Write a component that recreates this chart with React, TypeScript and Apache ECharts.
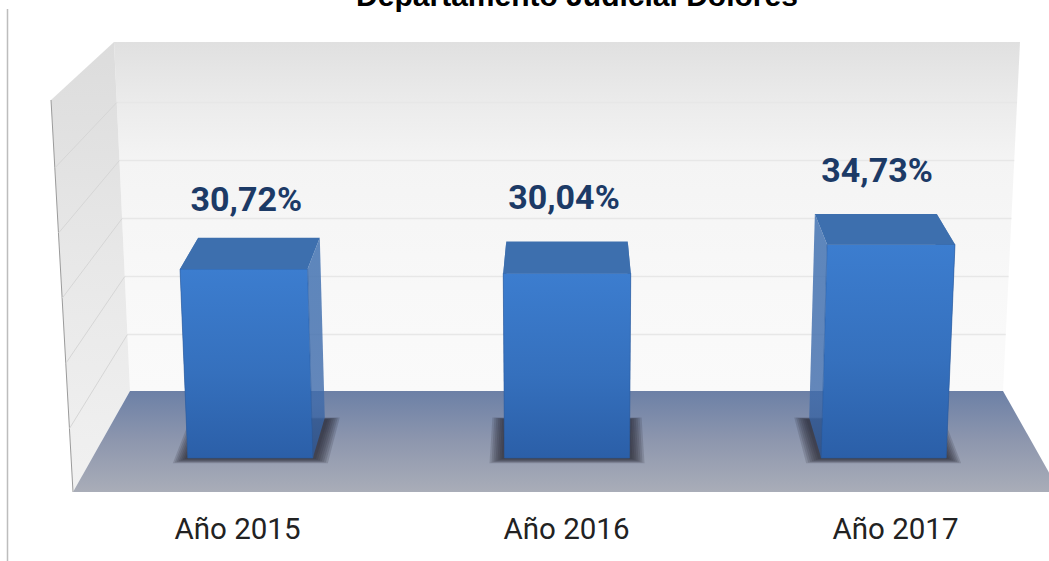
import React, { useEffect, useRef } from "react";
import * as echarts from "echarts";

const categories = ["Año 2015", "Año 2016", "Año 2017"];
const values = [30.72, 30.04, 34.73];
const wallTicks = [10, 20, 30, 40, 50];
const titleText = "Departamento Judicial Dolores";

// Layout of the fake-3D room, in pixels
const W = 1049;
const H = 561;
const VP_X = 567;
const VP_Y = -400;
const DEPTH = 0.953;
const TAPER = 0.000109;
const HALF = 62.5;
const LABEL_NUDGE = [2.5, -3, -14];
const LABEL_GAP = [39, 45, 44];
const SHADOW_PADS = [15, 13, 11, 9, 7, 5, 3];

const vGrad = (stops: [number, string][]) => ({
  type: "linear",
  x: 0,
  y: 0,
  x2: 0,
  y2: 1,
  colorStops: stops.map(([offset, color]) => ({ offset, color })),
});

const back = (p: number[]) => [
  VP_X + (p[0] - VP_X) * DEPTH,
  VP_Y + (p[1] - VP_Y) * DEPTH,
];

function renderWallLine(_: any, api: any) {
  const y = api.coord([0, api.value(0)])[1];
  const t = (y - 42) / 349;
  const xl = 114 + 16 * t;
  const xr = 1020 - 17 * t;
  const lx = 51 + 22 * t;
  const ly = 100 + 392 * t;
  return {
    type: "group",
    children: [
      {
        type: "line",
        shape: { x1: xl, y1: y, x2: xr, y2: y },
        style: { stroke: "#e7e7e7", lineWidth: 1.5 },
      },
      {
        type: "line",
        shape: { x1: xl, y1: y, x2: lx, y2: ly },
        style: { stroke: "#d6d6d6", lineWidth: 1 },
      },
    ],
  };
}

function renderBar(params: any, api: any) {
  const i = api.value(0);
  const v = api.value(1);
  const base = api.coord([i, 0]);
  const top = api.coord([i, v]);
  const h = base[1] - top[1];
  const f = 1 + TAPER * h;
  const topX = VP_X + (base[0] - VP_X) * f;
  const fbl = [base[0] - HALF, base[1]];
  const fbr = [base[0] + HALF, base[1]];
  const ftl = [topX - HALF * f, top[1]];
  const ftr = [topX + HALF * f, top[1]];
  const bbl = back(fbl);
  const bbr = back(fbr);
  const btl = back(ftl);
  const btr = back(ftr);
  const sideFill = vGrad([
    [0, "rgba(76,122,182,0.9)"],
    [0.75, "rgba(62,106,170,0.8)"],
    [1, "rgba(48,88,148,0.85)"],
  ]);
  const label = params.dataIndex;
  const shadows = SHADOW_PADS.map((pad) => ({
    type: "polygon",
    shape: {
      points: [
        [fbl[0] - pad, fbl[1] + pad * 0.35],
        [fbr[0] + pad, fbr[1] + pad * 0.35],
        [bbr[0] + pad, bbr[1] + 2 - pad * 0.15],
        [bbl[0] - pad, bbl[1] + 2 - pad * 0.15],
      ],
    },
    style: { fill: "rgba(38,38,48,0.17)" },
  }));
  return {
    type: "group",
    children: [
      ...shadows,
      {
        type: "polygon",
        shape: { points: [btl, ftl, fbl, bbl] },
        style: { fill: sideFill },
      },
      {
        type: "polygon",
        shape: { points: [btr, ftr, fbr, bbr] },
        style: { fill: sideFill },
      },
      {
        type: "polygon",
        shape: { points: [ftl, ftr, fbr, fbl] },
        style: {
          fill: vGrad([
            [0, "#3c7dcf"],
            [0.55, "#3570bd"],
            [1, "#2b5fa8"],
          ]),
          stroke: "#2a5a9e",
          lineWidth: 0.6,
        },
      },
      {
        type: "polygon",
        shape: { points: [btl, btr, ftr, ftl] },
        style: { fill: "#3d6fae" },
      },
      {
        type: "text",
        style: {
          text: v.toFixed(2).replace(".", ",") + "%",
          x: topX + LABEL_NUDGE[label],
          y: btl[1] - LABEL_GAP[label],
          align: "center",
          verticalAlign: "middle",
          fontFamily: "Roboto",
          fontWeight: "bold",
          fontSize: 34,
          fill: "#1c3a66",
        },
      },
    ],
  };
}

export default function App() {
  const ref = useRef<HTMLDivElement>(null);
  useEffect(() => {
    const chart = echarts.init(ref.current!, undefined, { renderer: "svg" });
    chart.setOption({
      animation: false,
      backgroundColor: "#ffffff",
      title: {
        text: titleText,
        left: 572,
        top: -25,
        textAlign: "center",
        textStyle: {
          fontFamily: "Liberation Sans",
          fontWeight: "bold",
          fontSize: 30,
          color: "#000000",
        },
      },
      grid: [
        { left: 130, width: 873, top: 44.5, height: 348, outerBoundsMode: "none" },
        { left: 92, width: 950, top: 89, height: 369, outerBoundsMode: "none" },
        { left: 73, width: 987, top: 89, height: 403, outerBoundsMode: "none" },
      ],
      xAxis: [
        { type: "value", gridIndex: 0, min: 0, max: 1, show: false },
        { type: "category", gridIndex: 1, data: categories, show: false },
        {
          type: "category",
          gridIndex: 2,
          data: categories,
          axisLine: { show: false },
          axisTick: { show: false },
          axisLabel: {
            margin: 22,
            fontFamily: "Roboto",
            fontSize: 29.5,
            color: "#222222",
          },
        },
      ],
      yAxis: [
        { type: "value", gridIndex: 0, min: 0, max: 60, interval: 10, show: false },
        { type: "value", gridIndex: 1, min: 0, max: 60, interval: 10, show: false },
        { type: "value", gridIndex: 2, min: 0, max: 60, interval: 10, show: false },
      ],
      graphic: [
        {
          type: "line",
          z: 0,
          shape: { x1: 7.5, y1: 9, x2: 7.5, y2: H },
          style: { stroke: "#bdbdbd", lineWidth: 1.5 },
        },
        {
          type: "polygon",
          z: 0,
          shape: { points: [[114, 42], [1020, 42], [1003, 391], [130, 391]] },
          style: {
            fill: vGrad([
              [0, "#e0e0e0"],
              [0.17, "#ebebeb"],
              [0.34, "#f4f4f4"],
              [0.7, "#f8f8f8"],
              [1, "#fafafa"],
            ]),
          },
        },
        {
          type: "polygon",
          z: 0,
          shape: { points: [[51, 100], [114, 42], [130, 391], [73, 492]] },
          style: {
            fill: vGrad([
              [0, "#dcdcdc"],
              [0.5, "#e8e8e8"],
              [1, "#f1f1f1"],
            ]),
          },
        },
        {
          type: "line",
          z: 0,
          shape: { x1: 51, y1: 100, x2: 73, y2: 492 },
          style: { stroke: "#9a9a9a", lineWidth: 1 },
        },
        {
          type: "polygon",
          z: 0,
          shape: { points: [[130, 391], [1003, 391], [1060, 492], [73, 492]] },
          style: {
            fill: vGrad([
              [0, "#6c80a6"],
              [0.5, "#8e97ae"],
              [1, "#a9adb8"],
            ]),
          },
        },
      ],
      series: [
        {
          type: "custom",
          xAxisIndex: 0,
          yAxisIndex: 0,
          clip: false,
          silent: true,
          data: wallTicks.map((t) => [t]),
          encode: { y: 0 },
          renderItem: renderWallLine,
        },
        {
          type: "custom",
          xAxisIndex: 1,
          yAxisIndex: 1,
          clip: false,
          silent: true,
          data: values.map((v, i) => [i, v]),
          encode: { x: 0, y: 1 },
          renderItem: renderBar,
        },
      ],
    });
    return () => chart.dispose();
  }, []);
  return (
    <div
      ref={ref}
      style={{ position: "fixed", left: 0, top: 0, width: W, height: H }}
    />
  );
}
